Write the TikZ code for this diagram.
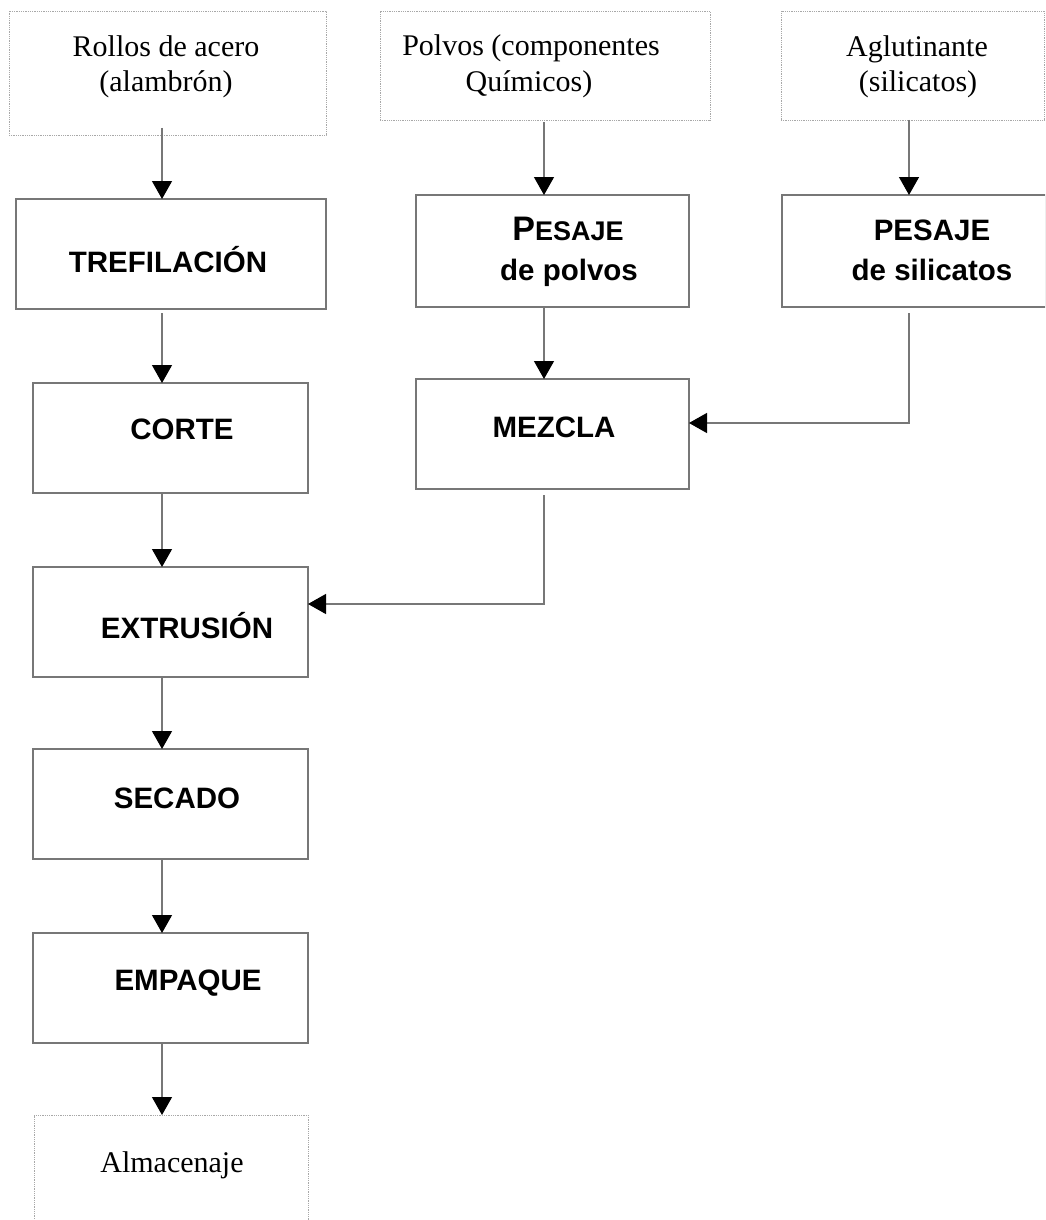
\documentclass[tikz,border=0pt]{standalone}
\usepackage{fontspec}
\setmainfont{Liberation Serif}
\newfontfamily\boldsans{Liberation Sans}
\usetikzlibrary{arrows.meta}
\definecolor{linegray}{HTML}{777777}
\definecolor{dotgray}{HTML}{A8A8A8}
\tikzset{
  procbox/.style={draw=linegray, line width=1.3pt, rectangle, inner sep=0pt, outer sep=0pt, fill=none},
  srcbox/.style={draw=dotgray, line width=0.8pt, densely dotted, rectangle, inner sep=0pt, outer sep=0pt},
  bl/.style={font=\boldsans\bfseries\fontsize{29.5}{35}\selectfont, anchor=base, inner sep=0pt},
  sl/.style={font=\fontsize{30}{35}\selectfont, anchor=base, inner sep=0pt},
  arr/.style={draw=linegray, line width=1.3pt, -{Triangle[width=20pt,length=18pt,color=black]}},
}
\begin{document}
\begin{tikzpicture}[x=1pt,y=-1pt]
\clip (0,0) rectangle (1045,1220);
\fill[white] (0,0) rectangle (1045,1220);

% source boxes (dotted)
\node[srcbox, minimum width=317pt, minimum height=124pt] (r1) at (167.5,73) {};
\node[srcbox, minimum width=330pt, minimum height=109pt] (r2) at (545,65.5) {};
\node[srcbox, minimum width=263pt, minimum height=109pt] (r3) at (912.5,65.5) {};
\node[srcbox, minimum width=274pt, minimum height=130pt] (alm) at (171,1180) {};

\node[sl] (r1a) at (166,57) {Rollos de acero};
\node[sl] (r1b) at (166,92) {(alambrón)};
\node[sl] (r2a) at (531,56) {Polvos (componentes};
\node[sl] (r2b) at (529,92) {Químicos)};
\node[sl] (r3a) at (917,57) {Aglutinante};
\node[sl] (r3b) at (918,92) {(silicatos)};
\node[sl] (almt) at (172,1172) {Almacenaje};

% process boxes
\node[procbox, minimum width=310pt, minimum height=110pt] (trefi) at (171,254) {};
\node[procbox, minimum width=275pt, minimum height=110pt] (corte) at (170.5,438) {};
\node[procbox, minimum width=275pt, minimum height=110pt] (extr) at (170.5,622) {};
\node[procbox, minimum width=275pt, minimum height=110pt] (sec) at (170.5,804) {};
\node[procbox, minimum width=275pt, minimum height=110pt] (emp) at (170.5,988) {};
\node[procbox, minimum width=273pt, minimum height=112pt] (pesP) at (552.5,251) {};
\node[procbox, minimum width=273pt, minimum height=110pt] (mez) at (552.5,434) {};
\node[procbox, minimum width=264pt, minimum height=112pt] (pesS) at (914,251) {};

\node[bl] (trefit) at (168,272) {TREFILACIÓN};
\node[bl] (cortet) at (182,439) {CORTE};
\node[bl] (extrt) at (187,638) {EXTRUSIÓN};
\node[bl] (sect) at (177,808) {SECADO};
\node[bl] (empt) at (188,990) {EMPAQUE};
\node[bl] (mezt) at (554,437) {MEZCLA};
\node[bl] (pesPa) at (568,240) {{\fontsize{34}{36}\selectfont P}{\fontsize{27}{32}\selectfont ESAJE}};
\node[bl] (pesPb) at (569,280) {de polvos};
\node[bl] (pesSa) at (932,240) {PESAJE};
\node[bl] (pesSb) at (932,280) {de silicatos};

% connector columns
\coordinate (lx) at (162,0);
\coordinate (mx) at (544,0);
\coordinate (rx) at (909,0);
\coordinate (jm) at (909,423);
\coordinate (je) at (544,604);

\draw[arr, shorten <=-7pt] (r1.south -| lx) -- (trefi.north -| lx);
\draw[arr, shorten <=4pt] (trefi.south -| lx) -- (corte.north -| lx);
\draw[arr] (corte.south -| lx) -- (extr.north -| lx);
\draw[arr] (extr.south -| lx) -- (sec.north -| lx);
\draw[arr] (sec.south -| lx) -- (emp.north -| lx);
\draw[arr] (emp.south -| lx) -- (alm.north -| lx);

\draw[arr, shorten <=2pt] (r2.south -| mx) -- (pesP.north -| mx);
\draw[arr] (r3.south -| rx) -- (pesS.north -| rx);
\draw[arr] (pesP.south -| mx) -- (mez.north -| mx);

\draw[arr, shorten <=6pt] (pesS.south -| jm) -- (jm) -- (mez.east |- jm);
\draw[arr, shorten <=6pt] (mez.south -| je) -- (je) -- (extr.east |- je);
\end{tikzpicture}
\end{document}
